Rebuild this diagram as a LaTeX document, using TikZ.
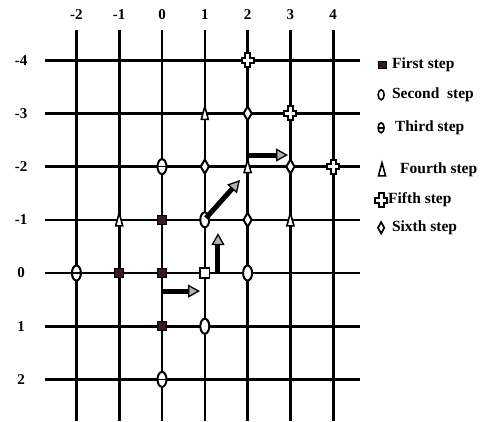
\documentclass[tikz,border=0pt]{standalone}
\usepackage{fontspec}
\setmainfont{Liberation Serif}
\usetikzlibrary{shapes.geometric, arrows.meta}
\definecolor{squarefill}{HTML}{3A1A1A}

\tikzstyle{gridline} = [line width=2.6pt]
\tikzstyle{axislabel} = [
    inner sep=0pt,
    font=\bfseries\fontsize{15}{17}\selectfont
]
\tikzstyle{legendtext} = [
    anchor=west,
    inner sep=0pt,
    font=\bfseries\fontsize{15.5}{17}\selectfont
]
\tikzstyle{firststep} = [
    rectangle,
    minimum size=9.5pt,
    inner sep=0pt,
    line width=1pt,
    draw=black,
    fill=squarefill
]
\tikzstyle{startsquare} = [
    rectangle,
    minimum size=9.5pt,
    inner sep=0pt,
    line width=1.6pt,
    draw=black,
    fill=white
]
\tikzstyle{secondstep} = [
    ellipse,
    minimum width=9pt,
    minimum height=15pt,
    inner sep=0pt,
    line width=2pt,
    draw=black,
    fill=white
]
\tikzstyle{thirdstep} = [
    secondstep,
    path picture={\draw[line width=1.5pt] (path picture bounding box.west) -- (path picture bounding box.east);}
]
\tikzstyle{sixthstep} = [
    diamond,
    minimum width=9pt,
    minimum height=15pt,
    inner sep=0pt,
    line width=2pt,
    draw=black,
    fill=white
]
\tikzstyle{arrow} = [line width=5pt,-{Triangle[length=12pt,width=13pt,fill=gray!60,line width=1.3pt]}]

\tikzset{
    fourthstep/.pic={
        \draw[fill=white, line width=1.6pt] (0,7pt) -- (3.5pt,-6pt) -- (-3.5pt,-6pt) -- cycle;
    },
    fifthstep/.pic={
        \draw[fill=white, line width=2pt] (-2.5pt,7pt) -- (2.5pt,7pt) -- (2.5pt,2.5pt) -- (6pt,2.5pt)
            -- (6pt,-2.5pt) -- (2.5pt,-2.5pt) -- (2.5pt,-7pt) -- (-2.5pt,-7pt) -- (-2.5pt,-2.5pt)
            -- (-6pt,-2.5pt) -- (-6pt,2.5pt) -- (-2.5pt,2.5pt) -- cycle;
    }
}

\begin{document}
\begin{tikzpicture}[x=42.8pt, y=-53.2pt]
\useasboundingbox (-3.785,-5.132) rectangle (7.710,2.782);

% grid and axis numbers
\foreach \i in {-2,...,4} {
    \draw[gridline] (\i,-4.57) -- (\i,2.782);
    \node (col\i) [axislabel] at (\i,-4.85) {\i};
}
\foreach \j in {-4,...,2} {
    \draw[gridline] (-2.73,\j) -- (4.63,\j);
    \node (row\j) [axislabel] at (-3.29,\j) {\j};
}

% first step
\node (first1) [firststep] at (0,-1) {};
\node (first2) [firststep] at (-1,0) {};
\node (first3) [firststep] at (0,0) {};
\node (first4) [firststep] at (0,1) {};
\node (start) [startsquare] at (1,0) {};

% second step
\node (second1) [secondstep] at (1,-1) {};
\node (second2) [secondstep] at (2,0) {};
\node (second3) [secondstep] at (1,1) {};

% third step
\node (third1) [thirdstep] at (-2,0) {};
\node (third2) [thirdstep] at (0,-2) {};
\node (third3) [thirdstep] at (0,2) {};

% fourth step
\pic at (-1,-1) {fourthstep};
\pic at (1,-3) {fourthstep};
\pic at (2,-2) {fourthstep};
\pic at (3,-1) {fourthstep};

% fifth step
\pic at (2,-4) {fifthstep};
\pic at (3,-3) {fifthstep};
\pic at (4,-2) {fifthstep};

% sixth step
\node (sixth1) [sixthstep] at (1,-2) {};
\node (sixth2) [sixthstep] at (2,-3) {};
\node (sixth3) [sixthstep] at (3,-2) {};
\node (sixth4) [sixthstep] at (2,-1) {};

% moves
\coordinate (moveAfrom) at (0,0.34);
\coordinate (moveAto) at (0.888,0.34);
\coordinate (moveBfrom) at (1.308,-0.02);
\coordinate (moveBto) at (1.308,-0.75);
\coordinate (moveCfrom) at (1.028,-1.034);
\coordinate (moveCto) at (1.822,-1.748);
\coordinate (moveDfrom) at (2.033,-2.218);
\coordinate (moveDto) at (2.944,-2.218);
\draw [arrow] (moveAfrom) -- (moveAto);
\draw [arrow] (moveBfrom) -- (moveBto);
\draw [arrow] (moveCfrom) -- (moveCto);
\draw [arrow] (moveDfrom) -- (moveDto);

% legend
\node (keyfirst) [firststep, minimum width=8pt, minimum height=6.5pt] at (5.14,-3.91) {};
\node (keysecond) [secondstep, minimum width=6pt, minimum height=10pt, line width=1.6pt] at (5.12,-3.35) {};
\node (keythird) [thirdstep, minimum width=6pt, minimum height=10pt, line width=1.6pt] at (5.12,-2.73) {};
\pic at (5.14,-1.94) {fourthstep};
\pic at (5.12,-1.37) {fifthstep};
\node (keysixth) [sixthstep, minimum width=7pt, minimum height=12pt, line width=1.7pt] at (5.12,-0.85) {};
\node (txtfirst) [legendtext] at (5.37,-3.91) {First step};
\node (txtsecond) [legendtext] at (5.37,-3.35) {Second~ step};
\node (txtthird) [legendtext] at (5.44,-2.73) {Third step};
\node (txtfourth) [legendtext] at (5.56,-1.94) {Fourth step};
\node (txtfifth) [legendtext] at (5.28,-1.37) {Fifth step};
\node (txtsixth) [legendtext] at (5.37,-0.85) {Sixth step};

\end{tikzpicture}
\end{document}
